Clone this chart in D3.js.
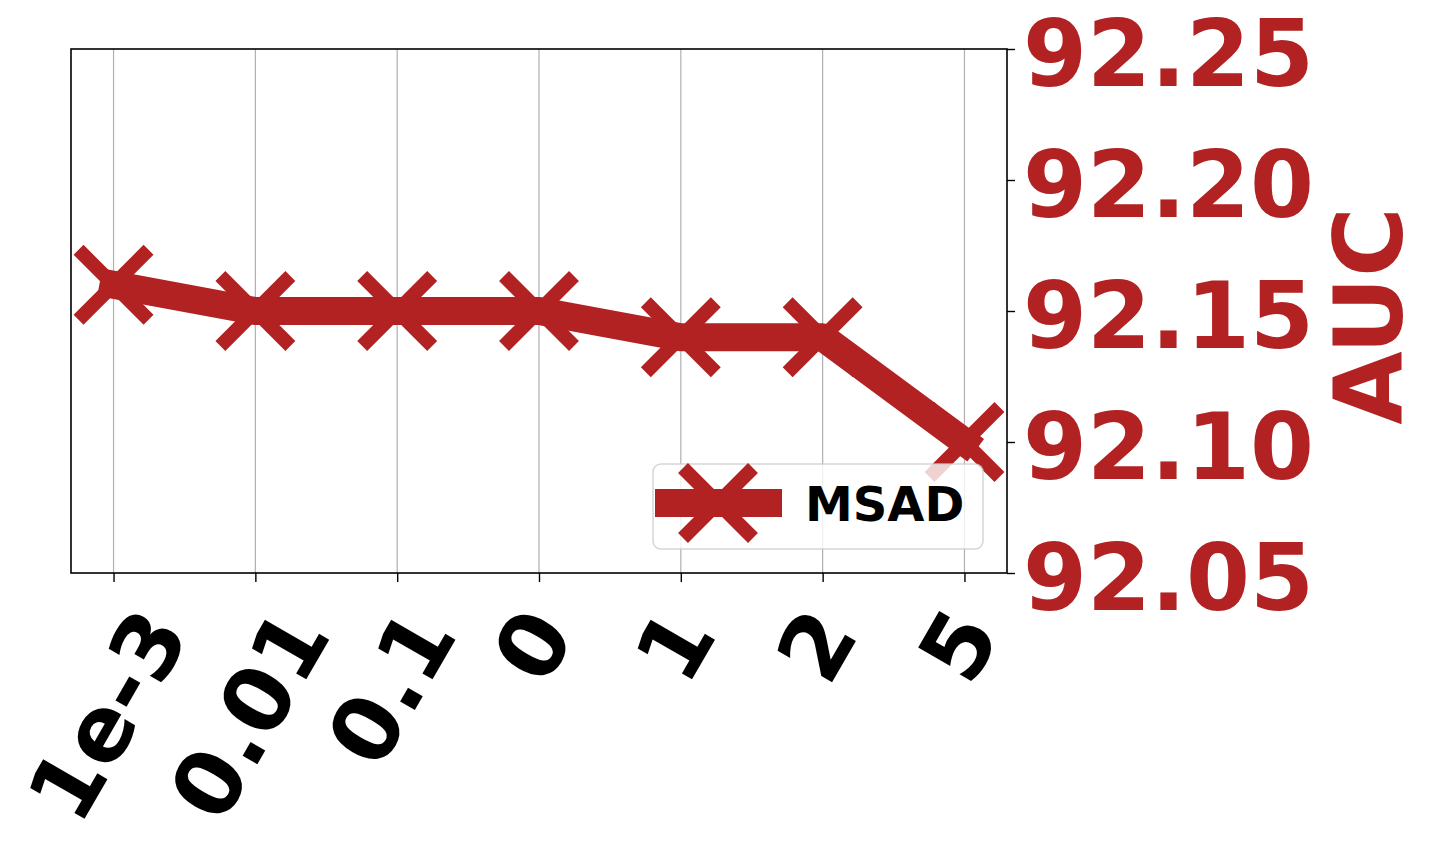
<!DOCTYPE html>
<html>
<head>
<meta charset="utf-8">
<script src="https://cdn.jsdelivr.net/npm/d3@7"></script>
<style>
  html, body { margin: 0; padding: 0; background: #fff; }
  svg { display: block; font-family: "DejaVu Sans", sans-serif; font-weight: bold; }
</style>
</head>
<body>
<svg id="chart"></svg>
<script>
const width = 1435;
const height = 850;

// data
const params = ["1e-3", "0.01", "0.1", "0", "1", "2", "5"];
const auc = [92.16, 92.15, 92.15, 92.15, 92.14, 92.14, 92.10];
const yTicks = [92.05, 92.10, 92.15, 92.20, 92.25];
const seriesName = "MSAD";
const yLabel = "AUC";

const red = "#b22222";
const plot = { left: 71, right: 1007, top: 49, bottom: 573 };

const svg = d3.select("#chart")
  .attr("width", width)
  .attr("height", height);

const x = d3.scalePoint()
  .domain(params)
  .range([plot.left, plot.right])
  .padding(0.3);

const y = d3.scaleLinear()
  .domain([92.05, 92.25])
  .range([plot.bottom, plot.top]);

// grid
svg.append("g")
  .selectAll("line")
  .data(params)
  .join("line")
  .attr("x1", d => x(d)).attr("x2", d => x(d))
  .attr("y1", plot.top).attr("y2", plot.bottom)
  .attr("stroke", "#b0b0b0")
  .attr("stroke-width", 1.2);

// line
const line = d3.line()
  .x((d, i) => x(params[i]))
  .y(d => y(d));

svg.append("path")
  .datum(auc)
  .attr("d", line)
  .attr("fill", "none")
  .attr("stroke", red)
  .attr("stroke-width", 28)
  .attr("stroke-linejoin", "round")
  .attr("stroke-linecap", "square");

// markers
const ms = 35;
const xMarker = `M${-ms},${-ms}L${ms},${ms}M${-ms},${ms}L${ms},${-ms}`;
svg.append("g")
  .selectAll("path")
  .data(auc)
  .join("path")
  .attr("transform", (d, i) => `translate(${x(params[i])},${y(d)})`)
  .attr("d", xMarker)
  .attr("fill", "none")
  .attr("stroke", red)
  .attr("stroke-width", 14)
  .attr("stroke-linecap", "butt");

// frame
svg.append("rect")
  .attr("x", plot.left).attr("y", plot.top)
  .attr("width", plot.right - plot.left)
  .attr("height", plot.bottom - plot.top)
  .attr("fill", "none")
  .attr("stroke", "#000")
  .attr("stroke-width", 1.6);

// right axis
const yAxis = svg.append("g")
  .attr("transform", `translate(${plot.right},0)`)
  .call(d3.axisRight(y).tickValues(yTicks).tickFormat(d3.format(".2f")).tickSize(8).tickPadding(8));
yAxis.select(".domain").remove();
yAxis.selectAll(".tick line").attr("stroke", "#000").attr("stroke-width", 1.4);
yAxis.selectAll(".tick text")
  .attr("fill", red)
  .attr("font-size", 92)
  .attr("font-weight", "bold")
  .attr("font-family", "DejaVu Sans")
  .attr("dy", "0.4em");

// bottom axis ticks
const xAxis = svg.append("g")
  .attr("transform", `translate(0,${plot.bottom})`)
  .call(d3.axisBottom(x).tickSize(9).tickFormat(""));
xAxis.select(".domain").remove();
xAxis.selectAll(".tick line").attr("stroke", "#000").attr("stroke-width", 1.4);

// rotated x tick labels (matplotlib style: rotated box centred under tick)
const fs = 90;
const labelTop = 600;
const asc = 0.76 * fs, desc = 0.208 * fs;
const c60 = 0.5, s60 = Math.sqrt(3) / 2;
const xl = svg.append("g")
  .selectAll("text")
  .data(params)
  .join("text")
  .text(d => d)
  .attr("font-size", fs)
  .attr("font-family", "DejaVu Sans")
  .attr("font-weight", "bold")
  .attr("fill", "#000");
xl.each(function(d) {
  const w = this.getComputedTextLength();
  const minX = -s60 * asc;
  const maxX = c60 * w + s60 * desc;
  const minY = -s60 * w - c60 * asc;
  const tx = x(d) - (minX + maxX) / 2;
  const ty = labelTop - minY;
  d3.select(this).attr("transform", `translate(${tx},${ty}) rotate(-60)`);
});

// y label
svg.append("text")
  .attr("transform", "translate(1402,316) rotate(-90)")
  .attr("text-anchor", "middle")
  .attr("font-size", 95)
  .attr("font-family", "DejaVu Sans")
  .attr("font-weight", "bold")
  .attr("fill", red)
  .text(yLabel);

// legend
const lg = svg.append("g");
lg.append("rect")
  .attr("x", 653).attr("y", 464)
  .attr("width", 330).attr("height", 85)
  .attr("rx", 8)
  .attr("fill", "rgba(255,255,255,0.8)")
  .attr("stroke", "rgba(204,204,204,0.8)")
  .attr("stroke-width", 1.5);
lg.append("line")
  .attr("x1", 669).attr("x2", 768)
  .attr("y1", 503).attr("y2", 503)
  .attr("stroke", red)
  .attr("stroke-width", 28)
  .attr("stroke-linecap", "square");
lg.append("path")
  .attr("transform", "translate(718,503)")
  .attr("d", xMarker)
  .attr("fill", "none")
  .attr("stroke", red)
  .attr("stroke-width", 14);
lg.append("text")
  .attr("x", 805).attr("y", 521)
  .attr("font-size", 48)
  .attr("font-family", "DejaVu Sans")
  .attr("font-weight", "bold")
  .attr("fill", "#000")
  .text(seriesName);
</script>
</body>
</html>
